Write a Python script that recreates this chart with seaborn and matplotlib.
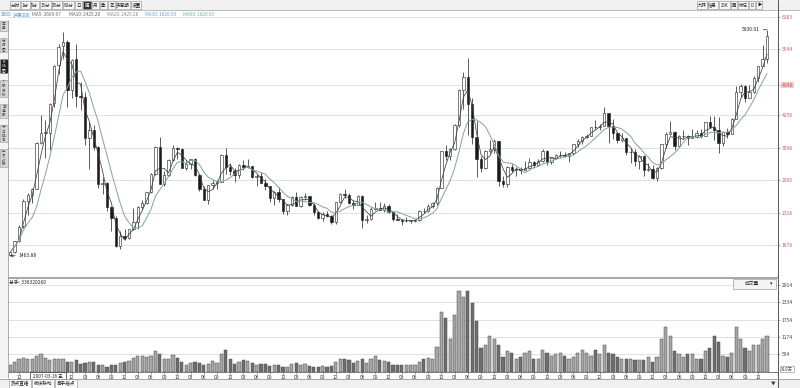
import numpy as np
import pandas as pd
import seaborn as sns
import matplotlib.pyplot as plt
from matplotlib.patches import Rectangle

# monthly candles, Oct 2006 .. Feb 2021
months = pd.period_range("2006-10", "2021-02", freq="M").strftime("%Y-%m").tolist()

opens = [
    1470, 1540, 1750,
    2050, 2540, 2670, 2790, 3700, 3900, 3900, 4480, 5230, 5600, 5690, 4740,
    5350, 4630, 4600, 3800, 3950, 3620, 2880, 2900, 2420, 2210, 1650, 1860,
    1820, 2000, 2140, 2420, 2510, 2720, 3080, 3620, 2890, 3060, 3360, 3590,
    3575, 3200, 3280, 3370, 3070, 2780, 2560, 2860, 2900, 2930, 3460, 3210,
    3130, 3070, 3260, 3220, 3230, 3030, 3040, 2910, 2840, 2600, 2720, 2580,
    2350, 2460, 2630, 2450, 2630, 2640, 2460, 2330, 2210, 2290, 2250, 2140,
    2520, 2690, 2670, 2500, 2470, 2640, 2170, 2190, 2380, 2410, 2370, 2450,
    2330, 2200, 2180, 2150, 2160, 2160, 2165, 2350, 2340, 2450, 2510, 2810,
    3530, 3430, 3580, 4050, 4750, 5000, 4470, 3820, 3370, 3200, 3530, 3570,
    3730, 2950, 2880, 3220, 3160, 3170, 3150, 3200, 3320, 3250, 3340, 3540,
    3310, 3390, 3450, 3460, 3440, 3490, 3670, 3740, 3820, 3840, 4010, 4000,
    4030, 4280, 4020, 3900, 3760, 3800, 3510, 3520, 3330, 3440, 3150, 3170,
    3010, 3200, 3670, 3870, 3910, 3630, 3830, 3840, 3800, 3810, 3890, 3830,
    4100, 4000, 3940, 3690, 3910, 3870, 4160, 4700, 4820, 4590, 4700, 4980,
    5210, 5350,
]
highs = [
    1560, 1760, 2070,
    2580, 2700, 2800, 3720, 4250, 4150, 4480, 5240, 5650, 5891.72, 5730, 5350,
    5650, 4900, 4700, 4100, 4050, 3630, 3020, 2920, 2450, 2250, 1950, 2000,
    2000, 2400, 2440, 2570, 2720, 3100, 3630, 3803, 3130, 3380, 3650, 3620,
    3600, 3330, 3380, 3400, 3080, 2840, 2860, 2960, 2960, 3470, 3600, 3290,
    3200, 3270, 3350, 3380, 3240, 3080, 3120, 2990, 2850, 2750, 2820, 2590,
    2490, 2650, 2720, 2650, 2710, 2650, 2500, 2350, 2320, 2340, 2280, 2530,
    2700, 2790, 2700, 2560, 2660, 2670, 2280, 2420, 2530, 2520, 2500, 2490,
    2340, 2290, 2200, 2230, 2180, 2200, 2360, 2400, 2490, 2520, 2820, 3540,
    3660, 3600, 4060, 4760, 5100, 5380, 4580, 4130, 3440, 3550, 3750, 3780,
    3730, 3050, 3240, 3280, 3220, 3220, 3330, 3400, 3340, 3370, 3570, 3560,
    3400, 3480, 3530, 3510, 3500, 3670, 3780, 3840, 3870, 4010, 4150, 4070,
    4400, 4290, 4160, 3920, 3900, 3800, 3600, 3570, 3450, 3450, 3300, 3260,
    3220, 3680, 3920, 4120, 3930, 3850, 3940, 3850, 3960, 3950, 3970, 4100,
    4230, 4220, 4200, 3920, 3980, 4190, 4810, 4850, 4830, 4830, 5020, 5220,
    5620, 5930.91,
]
lows = [
    1463.88, 1520, 1740,
    2020, 2280, 2500, 2790, 3680, 3400, 3560, 4400, 5050, 5350, 4400, 4590,
    4400, 4350, 3660, 3180, 3550, 2800, 2690, 2350, 1950, 1640, 1607, 1780,
    1800, 1980, 2000, 2380, 2480, 2700, 3060, 2880, 2850, 3050, 3330, 3370,
    3200, 3150, 3180, 3040, 2740, 2560, 2480, 2780, 2790, 2930, 3080, 3060,
    2930, 3010, 3150, 3190, 3000, 2840, 2900, 2760, 2520, 2460, 2530, 2290,
    2270, 2440, 2440, 2430, 2560, 2440, 2280, 2200, 2160, 2230, 2100, 2102,
    2500, 2600, 2480, 2380, 2460, 2023, 2120, 2180, 2360, 2360, 2330, 2300,
    2160, 2180, 2080, 2130, 2110, 2130, 2150, 2300, 2330, 2400, 2460, 2800,
    3360, 3360, 3560, 4010, 4360, 3850, 3680, 3030, 3110, 3180, 3500, 3500,
    2840, 2820, 2830, 3120, 3050, 3080, 3150, 3170, 3200, 3250, 3320, 3250,
    3280, 3380, 3410, 3410, 3320, 3460, 3610, 3680, 3790, 3830, 3960, 3950,
    4030, 3700, 3780, 3700, 3710, 3450, 3290, 3240, 3170, 3050, 3130, 2990,
    2935, 3180, 3600, 3860, 3550, 3620, 3780, 3650, 3790, 3800, 3790, 3830,
    3990, 3750, 3500, 3640, 3800, 3870, 4160, 4600, 4500, 4580, 4690, 4900,
    5210, 5280,
]
closes = [
    1540, 1750, 2041,
    2540, 2670, 2780, 3700, 3900, 3900, 4470, 5220, 5590, 5690, 4740, 5340,
    4630, 4600, 3800, 3950, 3620, 2880, 2900, 2420, 2210, 1650, 1860, 1820,
    1990, 2140, 2420, 2510, 2720, 3080, 3620, 2890, 3060, 3360, 3590, 3575,
    3204, 3280, 3370, 3070, 2780, 2560, 2860, 2900, 2930, 3460, 3210, 3130,
    3070, 3260, 3220, 3230, 3030, 3040, 2910, 2840, 2600, 2720, 2580, 2350,
    2460, 2630, 2450, 2630, 2640, 2460, 2330, 2210, 2290, 2250, 2140, 2520,
    2690, 2670, 2500, 2470, 2640, 2170, 2190, 2380, 2410, 2370, 2450, 2330,
    2200, 2180, 2150, 2160, 2160, 2165, 2350, 2340, 2450, 2510, 2810, 3530,
    3430, 3580, 4050, 4750, 5000, 4470, 3820, 3370, 3200, 3530, 3570, 3730,
    2950, 2880, 3220, 3160, 3170, 3150, 3200, 3320, 3250, 3340, 3540, 3310,
    3390, 3450, 3460, 3440, 3490, 3670, 3740, 3820, 3840, 4010, 4000, 4030,
    4280, 4020, 3900, 3760, 3800, 3510, 3520, 3330, 3440, 3150, 3170, 3010,
    3200, 3670, 3870, 3910, 3630, 3830, 3840, 3800, 3810, 3890, 3830, 4100,
    4000, 3940, 3690, 3910, 3870, 4160, 4700, 4820, 4590, 4700, 4980, 5210,
    5350, 5800,
]
# average weekly volume in the month, x10万手
vols = [
    250, 330, 450,
    480, 420, 430, 520, 600, 480, 400, 450, 420, 420, 350, 330,
    400, 280, 300, 330, 350, 230, 230, 180, 230, 250, 300, 330,
    380, 480, 550, 520, 500, 550, 700, 600, 430, 420, 560, 470,
    350, 250, 300, 330, 300, 230, 280, 370, 300, 600, 750, 420,
    280, 350, 400, 380, 300, 250, 280, 260, 200, 250, 250, 180,
    170, 280, 300, 230, 270, 200, 180, 170, 190, 170, 190, 350,
    450, 420, 400, 300, 380, 420, 300, 420, 520, 400, 360, 330,
    230, 250, 230, 230, 220, 240, 330, 420, 480, 450, 850, 2000,
    1800, 1100, 1900, 2700, 2500, 2700, 2300, 1700, 800, 900, 1200, 1100,
    900, 500, 700, 650, 450, 500, 650, 700, 450, 450, 750, 650,
    550, 600, 650, 550, 450, 500, 650, 750, 650, 550, 750, 600,
    900, 650, 600, 500, 450, 450, 450, 400, 400, 400, 500, 350,
    500, 1100, 1500, 1200, 700, 600, 500, 600, 600, 450, 450, 700,
    800, 1200, 1000, 550, 500, 650, 1500, 1100, 800, 700, 900, 900,
    1100, 1200,
]

price_ticks = [6183, 5544, 4848, 4256, 3598, 2960, 2318, 1678]
vol_ticks = [594, 1174, 1754, 2334, 2914]

header = [("300S", "#3b8fd0"), ("沪深300", "#3b8fd0"), ("MA5: 2609.67", "#666666"),
          ("MA10: 2425.20", "#666666"), ("MA20: 2425.28", "#888888"),
          ("MA30: 1820.93", "#6f9fc8"), ("MA60: 1820.63", "#6fb0a0")]
header_x = [1, 13, 32, 69, 107, 145, 183]
periods = ["分时", "1分", "5分", "15分", "30分", "60分", "日", "周", "月", "季", "年", "多周期", "设置"]
side_tabs = ["应用", "分时图", "K线图", "个股资料", "自选股", "综合排名", "牛叉诊股"]
bottom_tabs = ["热点直播", "板块联动", "高手指点"]
right_tools = ["九转", "信息", "25K", "画", "标记", "D", "▶"]

df = pd.DataFrame({"month": months, "open": opens, "high": highs, "low": lows,
                   "close": closes, "vol": vols})
df["x"] = np.arange(len(df))
df["up"] = df["close"] >= df["open"]
df["ma3"] = df["close"].rolling(3, min_periods=1).mean()
df["ma7"] = df["close"].rolling(7, min_periods=1).mean()
n = len(df)

sns.set_theme(style="white")
plt.rcParams['font.family'] = ['Noto Sans CJK SC', 'DejaVu Sans']

W, H = 800, 388


def box(x0, y0, x1, y1):
    return [x0 / W, 1 - y1 / H, (x1 - x0) / W, (y1 - y0) / H]


fig = plt.figure(figsize=(8, 3.88), dpi=100)
fig.patch.set_facecolor("white")
ax = fig.add_axes(box(8, 10, 778, 277))
axv = fig.add_axes(box(8, 278, 778, 372), sharex=ax)

# candles
ax.vlines(df["x"], df["low"], df["high"], color="#1a1a1a", lw=0.5, zorder=2)
body_lo = df[["open", "close"]].min(axis=1)
body_h = (df["close"] - df["open"]).abs().clip(lower=10)
ax.bar(df["x"], body_h, bottom=body_lo, width=0.55,
       color=np.where(df["up"], "white", "#1a1a1a"), edgecolor="#1a1a1a", lw=0.4, zorder=3)
sns.lineplot(data=df, x="x", y="ma3", ax=ax, color="#404040", lw=0.55, zorder=4)
sns.lineplot(data=df, x="x", y="ma7", ax=ax, color="#7fa893", lw=0.7, zorder=4)

ax.set_xlim(-0.5, n + 1.5)
ax.set_ylim(1045, 6321)
ax.set_xlabel("")
ax.set_ylabel("")
ax.yaxis.tick_right()
ax.set_yticks(price_ticks)
ax.set_yticklabels([str(t) for t in price_ticks])
ax.tick_params(axis="y", right=True, labelsize=3.6, labelcolor="#c06060", length=1.5,
               pad=1, color="#888888", width=0.5)
ax.tick_params(axis="x", labelbottom=False, length=0)
ax.grid(axis="y", color="#dcdcdc", lw=0.6)
ax.get_yaxis().get_major_ticks()[2].label2.set_bbox(dict(fc="#f5c8c8", ec="none", pad=0.6))
for s in ["top", "left", "right"]:
    ax.spines[s].set_visible(False)
ax.spines["bottom"].set_color("#999999")
ax.spines["bottom"].set_linewidth(0.6)

imax = int(np.argmax(highs))
imin = int(np.argmin(lows))
ax.annotate(f"{highs[imax]:.2f}", xy=(imax, highs[imax]), xytext=(-5, 0),
            textcoords="offset points", ha="right", va="center", fontsize=3.6, color="#222222",
            arrowprops=dict(arrowstyle="-", lw=0.5, color="#222222", shrinkA=0, shrinkB=0))
ax.annotate(f"{lows[imin]:.2f}", xy=(imin, lows[imin]), xytext=(6, 0),
            textcoords="offset points", ha="left", va="center", fontsize=3.6, color="#222222",
            arrowprops=dict(arrowstyle="->", lw=0.5, color="#222222", shrinkA=0, shrinkB=0,
                            mutation_scale=4))

# volume
axv.bar(df["x"], df["vol"], width=0.7, color=np.where(df["up"], "#a6a6a6", "#6e6e6e"),
        edgecolor="#4d4d4d", lw=0.35, zorder=3)
axv.set_ylim(0, 3149)
axv.yaxis.tick_right()
axv.set_yticks(vol_ticks)
axv.set_yticklabels([str(t) for t in vol_ticks])
axv.tick_params(axis="y", right=True, labelsize=3.6, labelcolor="#444444", length=1.5,
                pad=1, color="#888888", width=0.5)
axv.grid(axis="y", color="#dcdcdc", lw=0.6)
tick_pos = [i for i, m in enumerate(months)
            if m[5:] in ("12", "03", "06", "09") and m not in ("2007-03", "2007-06", "2007-09")]
axv.set_xticks(tick_pos)
axv.set_xticklabels([months[i][5:] for i in tick_pos])
axv.tick_params(axis="x", bottom=True, labelsize=3.6, labelcolor="#333333", length=1.5,
                pad=0.8, color="#666666", width=0.5)
for s in ["top", "left", "right"]:
    axv.spines[s].set_visible(False)
axv.spines["bottom"].set_color("#666666")
axv.spines["bottom"].set_linewidth(0.6)

# overlay for the software chrome
ov = fig.add_axes([0, 0, 1, 1], zorder=5)
ov.set_xlim(0, W)
ov.set_ylim(H, 0)
ov.axis("off")
ov.patch.set_alpha(0)

ov.add_patch(Rectangle((0, 0), W, 10, fc="#f0f0f0", ec="none"))
ov.plot([0, W], [10, 10], color="#b0b0b0", lw=0.6)
bx = 10
for p in periods:
    w = 4 + 3.2 * len(p) if not p[0].isdigit() else 3 + 2.6 * len(p)
    sel = p == "周"
    ov.add_patch(Rectangle((bx, 1), w, 8, fc="#333333" if sel else "#f8f8f8",
                           ec="#8c8c8c", lw=0.4))
    ov.text(bx + w / 2, 5.2, p, ha="center", va="center", fontsize=3.3,
            color="white" if sel else "#222222")
    bx += w + 1
bx = 697
for p in right_tools:
    w = 3 + 2.8 * len(p) if p.isascii() else 3 + 3.4 * len(p)
    ov.add_patch(Rectangle((bx, 1), w, 8, fc="#f8f8f8", ec="#8c8c8c", lw=0.4))
    ov.text(bx + w / 2, 5.2, p, ha="center", va="center", fontsize=3.2, color="#222222")
    bx += w + 1

for (txt, col), hx in zip(header, header_x):
    ov.text(hx, 15, txt, ha="left", va="center", fontsize=3.4, color=col)

# left tabs
ov.add_patch(Rectangle((0, 20), 8, 358, fc="#f4f4f4", ec="none"))
ov.plot([8, 8], [20, 378], color="#a0a0a0", lw=0.6)
ty = 21
for t in side_tabs:
    h = 3.6 * len(t) + 3
    sel = t == "K线图"
    ov.add_patch(Rectangle((0.3, ty), 7.2, h, fc="#222222" if sel else "#d8d8d8",
                           ec="#999999", lw=0.4))
    ov.text(3.9, ty + h / 2, "\n".join(t), ha="center", va="center", fontsize=2.6,
            linespacing=1.05, color="white" if sel else "#333333")
    ty += h + 7

ov.plot([778, 778], [0, H], color="#555555", lw=0.7)
ov.plot([8, 778], [277.5, 277.5], color="#999999", lw=0.6)

ov.text(9, 283, "总手: 336320260", ha="left", va="center", fontsize=3.5, color="#222222")
ov.add_patch(Rectangle((733, 278.5), 43, 10, fc="#f4f4f4", ec="#8c8c8c", lw=0.4))
ov.text(752, 283.5, "成交量", ha="center", va="center", fontsize=3.4, color="#222222")
ov.text(771, 283.5, "▾", ha="center", va="center", fontsize=3.4, color="#222222")
ov.text(781, 369, "X10万", ha="left", va="center", fontsize=3.2, color="#444444",
        bbox=dict(fc="white", ec="#888888", lw=0.4, pad=0.5))

ov.add_patch(Rectangle((30, 371.5), 36, 9, fc="white", ec="#333333", lw=0.5))
ov.text(48, 376, "2007-03-16 五", ha="center", va="center", fontsize=3.4, color="#222222")

ov.add_patch(Rectangle((0, 378.5), W, 9.5, fc="#f0f0f0", ec="none"))
ov.plot([0, W], [378.5, 378.5], color="#999999", lw=0.6)
bx = 9
for t in bottom_tabs:
    w = 22
    ov.add_patch(Rectangle((bx, 379), w, 8.5, fc="#fafafa", ec="#8c8c8c", lw=0.4))
    ov.text(bx + w / 2, 383.3, t, ha="center", va="center", fontsize=3.3, color="#222222")
    bx += w + 1
ov.text(773, 383.3, "▼", ha="center", va="center", fontsize=3.3, color="#333333")

fig.savefig("out.png", dpi=100)
